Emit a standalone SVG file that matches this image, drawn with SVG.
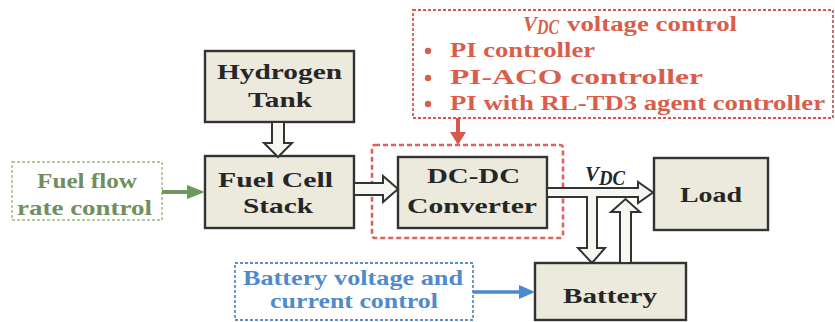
<svg xmlns="http://www.w3.org/2000/svg" width="835" height="322" viewBox="0 0 835 322">
<style>
.box{fill:#ebeadd;stroke:#333333;stroke-width:2.4}
.t{font-family:"Liberation Serif","Times New Roman",serif;font-weight:bold;font-size:21px;fill:#262626}
.red{fill:#d85e4b}
.grn{fill:#6f8f5d}
.blu{fill:#4f8bcb}
.hollow{fill:#f7f7f1;stroke:#333333;stroke-width:2;stroke-linejoin:miter}
</style>
<rect width="835" height="322" fill="#ffffff"/>

<g id="vdc-control">
<rect x="413" y="10" width="420" height="108" fill="none" stroke="#d9584d" stroke-width="1.8" stroke-dasharray="3 2"/>
<text class="t red" x="523" y="31" font-style="italic" font-size="21">V</text>
<text class="t red" x="537" y="34" font-style="italic" font-size="12" textLength="22" lengthAdjust="spacingAndGlyphs">DC</text>
<text class="t red" x="567" y="31" textLength="170" lengthAdjust="spacingAndGlyphs">voltage control</text>
<circle cx="428" cy="51" r="3.2" fill="#d85e4b"/>
<circle cx="428" cy="78" r="3.2" fill="#d85e4b"/>
<circle cx="428" cy="104" r="3.2" fill="#d85e4b"/>
<text class="t red" x="450" y="57" textLength="145" lengthAdjust="spacingAndGlyphs">PI controller</text>
<text class="t red" x="450" y="84" textLength="253" lengthAdjust="spacingAndGlyphs">PI-ACO controller</text>
<text class="t red" x="450" y="110" textLength="375" lengthAdjust="spacingAndGlyphs">PI with RL-TD3 agent controller</text>
</g>

<g id="dc-region">
<rect x="372" y="145" width="191" height="93" rx="3" fill="none" stroke="#e0605a" stroke-width="2.6" stroke-dasharray="5 3"/>
</g>

<g id="hydrogen-tank">
<rect class="box" x="205" y="51" width="149" height="71"/>
<text class="t" x="217" y="79" textLength="125" lengthAdjust="spacingAndGlyphs">Hydrogen</text>
<text class="t" x="248" y="107" textLength="64" lengthAdjust="spacingAndGlyphs">Tank</text>
</g>

<g id="fuel-cell-stack">
<rect class="box" x="205" y="156" width="149" height="72"/>
<text class="t" x="218" y="187" textLength="115" lengthAdjust="spacingAndGlyphs">Fuel Cell</text>
<text class="t" x="243" y="213" textLength="70" lengthAdjust="spacingAndGlyphs">Stack</text>
</g>

<g id="dc-dc-converter">
<rect class="box" x="398" y="157" width="149" height="71"/>
<text class="t" x="427" y="183" textLength="93" lengthAdjust="spacingAndGlyphs">DC-DC</text>
<text class="t" x="407" y="213" textLength="130" lengthAdjust="spacingAndGlyphs">Converter</text>
</g>

<g id="load">
<rect class="box" x="654" y="158" width="114" height="72"/>
<text class="t" x="680" y="202" textLength="62" lengthAdjust="spacingAndGlyphs">Load</text>
</g>

<g id="battery">
<rect class="box" x="535" y="263" width="151" height="57"/>
<text class="t" x="563" y="303" textLength="94" lengthAdjust="spacingAndGlyphs">Battery</text>
</g>

<g id="fuel-flow-control">
<rect x="12" y="162" width="150" height="58" fill="none" stroke="#b7c79f" stroke-width="1.8" stroke-dasharray="3 2"/>
<text class="t grn" x="37" y="188" textLength="100" lengthAdjust="spacingAndGlyphs">Fuel flow</text>
<text class="t grn" x="17" y="215" textLength="135" lengthAdjust="spacingAndGlyphs">rate control</text>
</g>

<g id="battery-control">
<rect x="235" y="263" width="238" height="57" fill="none" stroke="#5a8fcf" stroke-width="1.8" stroke-dasharray="3 2"/>
<text class="t blu" x="243" y="285" textLength="220" lengthAdjust="spacingAndGlyphs">Battery voltage and</text>
<text class="t blu" x="270" y="308" textLength="168" lengthAdjust="spacingAndGlyphs">current control</text>
</g>

<g id="connectors">
<polygon class="hollow" points="272,122 284,122 284,143 292,143 278,157 264,143 272,143"/>
<polygon class="hollow" points="354,183 383,183 383,176 398,189 383,202 383,195 354,195"/>
<polygon class="hollow" points="547,188 638,188 638,182 653,192.5 638,203 638,197 597,197 597,248 605,248 592,263 578,248 587,248 587,197 547,197"/>
<polygon class="hollow" points="620,263 620,212 611,212 625.5,199 640,212 631,212 631,263"/>
<line x1="162" y1="192" x2="190" y2="192" stroke="#6b9a5c" stroke-width="4"/>
<polygon points="187,185 205,192 187,199" fill="#6b9a5c"/>
<line x1="473" y1="292" x2="522" y2="292" stroke="#4a8ad0" stroke-width="3.5"/>
<polygon points="519,285 535,292 519,299" fill="#4a8ad0"/>
<line x1="458" y1="118" x2="458" y2="134" stroke="#d9584d" stroke-width="4"/>
<polygon points="450,132 466,132 458,145" fill="#d9584d"/>
<text class="t" x="585" y="181" font-style="italic" font-size="22">V</text>
<text class="t" x="599" y="185" font-style="italic" font-size="13" textLength="26" lengthAdjust="spacingAndGlyphs">DC</text>
</g>
</svg>
